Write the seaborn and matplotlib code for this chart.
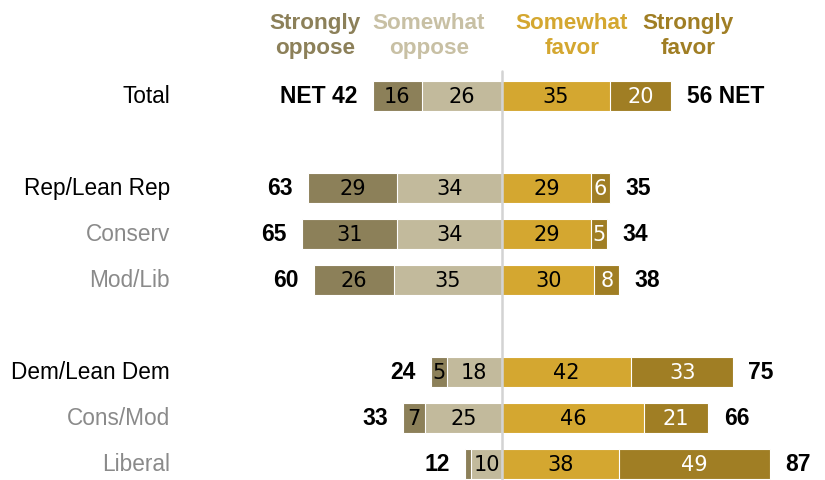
import numpy as np
import pandas as pd
import seaborn as sns
from matplotlib import pyplot as plt


## DADOS

grupos = ['Total', 'Rep/Lean Rep', 'Conserv', 'Mod/Lib', 'Dem/Lean Dem', 'Cons/Mod', 'Liberal']
subgrupo = [False, False, True, True, False, True, True]
strongly_oppose = [16, 29, 31, 26, 5, 7, 2]
somewhat_oppose = [26, 34, 34, 35, 18, 25, 10]
somewhat_favor = [35, 29, 29, 30, 42, 46, 38]
strongly_favor = [20, 6, 5, 8, 33, 21, 49]
net_oppose = [42, 63, 65, 60, 24, 33, 12]
net_favor = [56, 35, 34, 38, 75, 66, 87]
headers = ['Strongly\noppose', 'Somewhat\noppose', 'Somewhat\nfavor', 'Strongly\nfavor']

# linhas vazias entre os blocos
ordem = ['Total', ' ', 'Rep/Lean Rep', 'Conserv', 'Mod/Lib', '  ', 'Dem/Lean Dem', 'Cons/Mod', 'Liberal']

cores = ['#8C8059', '#C2BA9C', '#D4A730', '#A07E24']
cor_header = ['#8C8059', '#C8C0A4', '#D4A730', '#A07E24']

df = pd.DataFrame({'grupo': grupos,
                   'so': strongly_oppose, 'wo': somewhat_oppose,
                   'wf': somewhat_favor, 'sf': strongly_favor,
                   'net_o': net_oppose, 'net_f': net_favor})
df['opp_total'] = -(df['so'] + df['wo'])
df['opp_some'] = -df['wo']
df['fav_total'] = df['wf'] + df['sf']


## FIGURA

sns.set_theme(style='white')
plt.rcParams['font.family'] = ['Liberation Sans', 'DejaVu Sans']

fig = plt.figure(figsize=(8.25, 4.81), dpi=100)
ax = fig.add_axes([0, 0, 1, 1])

PX = 3.08          # pixels por ponto percentual
X0 = 502           # posição do zero em pixels
ROW = 46           # pixels por linha
Y0 = 97            # centro da primeira linha

kw = dict(data=df, y='grupo', order=ordem, orient='h', width=0.65, saturation=1,
          edgecolor='white', linewidth=0.8, ax=ax)
sns.barplot(x='opp_total', color=cores[0], **kw)
sns.barplot(x='opp_some', color=cores[1], **kw)
sns.barplot(x='fav_total', color=cores[3], **kw)
sns.barplot(x='wf', color=cores[2], **kw)

ax.set_xlim(-X0 / PX, (825 - X0) / PX)
ax.set_ylim((481 - Y0) / ROW, -Y0 / ROW)
ax.axis('off')

# linha central
ax.plot([0, 0], [(481 - Y0) / ROW, (72 - Y0) / ROW], color='#D3D3D3', lw=1.8, zorder=5)

## TEXTOS

for _, r in df.iterrows():
    y = ordem.index(r['grupo'])
    segs = [(-(r['so'] + r['wo']), r['so'], 'black'),
            (-r['wo'], r['wo'], 'black'),
            (0, r['wf'], 'black'),
            (r['wf'], r['sf'], 'white')]
    for ini, val, cor in segs:
        if val < 5:
            continue
        ax.text(ini + val / 2, y, str(val), ha='center', va='center', fontsize=15,
                color=cor, zorder=6, family='DejaVu Sans')
    lab_o = ('NET ' if r['grupo'] == 'Total' else '') + str(r['net_o'])
    lab_f = str(r['net_f']) + (' NET' if r['grupo'] == 'Total' else '')
    ax.text(r['opp_total'] - 5, y, lab_o, ha='right', va='center', fontsize=16.5,
            fontweight='bold', color='black')
    ax.text(r['fav_total'] + 5, y, lab_f, ha='left', va='center', fontsize=16.5,
            fontweight='bold', color='black')
    sub = subgrupo[grupos.index(r['grupo'])]
    ax.text((170 - X0) / PX, y, r['grupo'], ha='right', va='center', fontsize=16.3,
            color='#8A8A8A' if sub else 'black')

header_x = [315, 429, 572, 688]
for hx, h, c in zip(header_x, headers, cor_header):
    fig.text(hx / 825, 1 - 36 / 481, h, ha='center', va='center', fontsize=16.2,
             fontweight='bold', color=c, linespacing=1.2)

plt.savefig('out.png', dpi=100)
